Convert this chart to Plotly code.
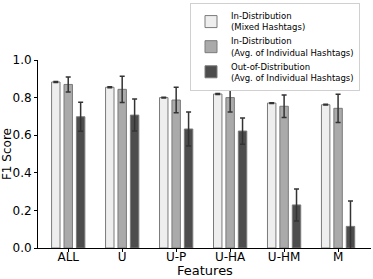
import plotly.graph_objects as go

features = ["ALL", "U", "U-P", "U-HA", "U-HM", "M"]
mixed = [0.883, 0.855, 0.800, 0.819, 0.771, 0.762]
mixed_err = [0.003, 0.003, 0.002, 0.003, 0.002, 0.002]
indiv = [0.870, 0.844, 0.787, 0.800, 0.754, 0.743]
indiv_err = [0.040, 0.070, 0.068, 0.077, 0.060, 0.075]
ood = [0.698, 0.707, 0.633, 0.622, 0.229, 0.115]
ood_err = [0.077, 0.085, 0.090, 0.070, 0.085, 0.135]

names = ["In-Distribution<br>(Mixed Hashtags)",
         "In-Distribution<br>(Avg. of Individual Hashtags)",
         "Out-of-Distribution<br>(Avg. of Individual Hashtags)"]
colors = ["#eeeeee", "#aaaaaa", "#4d4d4d"]

fig = go.Figure()
for name, vals, errs, col in zip(names, [mixed, indiv, ood], [mixed_err, indiv_err, ood_err], colors):
    fig.add_trace(go.Bar(
        x=features, y=vals, name=name,
        marker=dict(color=col, line=dict(color="#7a7a7a", width=1)),
        error_y=dict(type="data", array=errs, color="#333333", thickness=1.5, width=2.5),
    ))

fig.update_layout(
    width=373, height=279,
    margin=dict(l=38, r=2, t=60, b=31, autoexpand=False),
    barmode="group", bargap=0.31, bargroupgap=0.32,
    plot_bgcolor="white", paper_bgcolor="white",
    font=dict(family="DejaVu Sans", size=12, color="black"),
    legend=dict(x=0.967, y=1.303, xanchor="right", yanchor="top",
                bordercolor="#d0d0d0", borderwidth=1, bgcolor="white",
                font=dict(size=8.5), tracegroupgap=1, itemwidth=30),
    showlegend=True,
    annotations=[
        dict(text="Features", xref="paper", yref="paper", x=0.5, y=-0.118,
             xanchor="center", yanchor="middle", showarrow=False, font=dict(size=13)),
        dict(text="F1 Score", xref="paper", yref="paper", x=-0.093, y=0.5,
             xanchor="center", yanchor="middle", showarrow=False, textangle=-90,
             font=dict(size=12)),
    ],
)
fig.update_xaxes(range=[-0.56, 5.61], showline=True, linecolor="black", linewidth=1,
                 ticks="outside", ticklen=3, tickcolor="black", automargin=False,
                 tickangle=0, ticklabelstandoff=-5)
fig.update_yaxes(range=[0, 1.0], tickvals=[0, 0.2, 0.4, 0.6, 0.8, 1.0],
                 ticktext=["0.0", "0.2", "0.4", "0.6", "0.8", "1.0"],
                 showline=True, linecolor="black", linewidth=1, showgrid=False,
                 ticks="outside", ticklen=3, tickcolor="black", zeroline=False,
                 automargin=False)

fig.write_html("out.html", post_script="document.body.style.margin='0';",
               config={"displayModeBar": False})
